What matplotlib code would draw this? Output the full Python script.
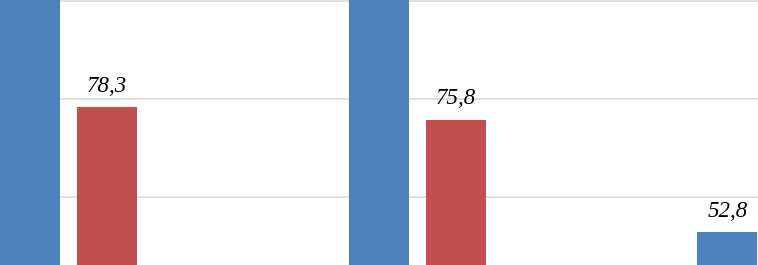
import matplotlib.pyplot as plt
import numpy as np

# values (blue bars 1 and 2 run past the top edge)
groups = [0, 1, 2]
blue_vals = [101, 101, 52.8]
red_vals = [78.3, 75.8]
blue_labels = [None, None, "52,8"]
red_labels = ["78,3", "75,8"]

blue = "#4F81BD"
red = "#C0504D"

fig = plt.figure(figsize=(7.58, 2.65), dpi=100)
ax = fig.add_axes([0, 0, 1, 1])

w = 0.172
off = 0.2208
x = np.array(groups, dtype=float)

b1 = ax.bar(x, blue_vals, width=w, color=blue, zorder=2)
b2 = ax.bar(x[:len(red_vals)] + off, red_vals, width=w, color=red, zorder=2)

for bars, labels in [(b1, blue_labels), (b2, red_labels)]:
    for bar, lab in zip(bars, labels):
        if lab is None:
            continue
        ax.annotate(lab, (bar.get_x() + bar.get_width() / 2, bar.get_height()),
                    xytext=(0, 7.5), textcoords="offset points",
                    ha="center", va="bottom", fontsize=16.5, style="italic",
                    family="Liberation Serif", color="black")

for v in [60, 80, 100]:
    ax.axhline(v, color="#D9D9D9", lw=1.2, zorder=1)

ax.set_xlim(-0.086, 2.088)
ax.set_ylim(46.1, 100.2)
ax.axis("off")

fig.savefig("out.png", dpi=100)
